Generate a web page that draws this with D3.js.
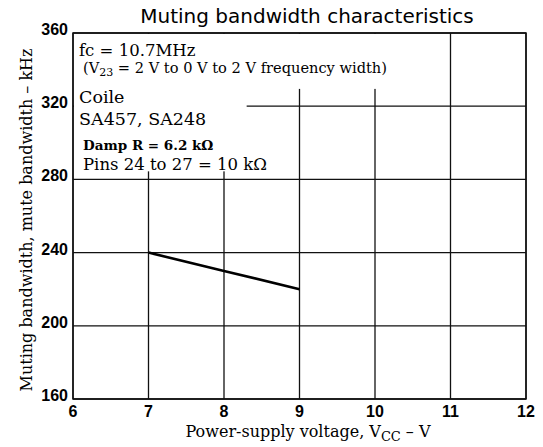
<!DOCTYPE html>
<html>
<head>
<meta charset="utf-8">
<script src="https://cdn.jsdelivr.net/npm/d3@7"></script>
<style>
  body { margin: 0; background: #fff; }
  svg { display: block; }
</style>
</head>
<body>
<div class="chart"></div>
<script>
// values
var voltage = [7, 8, 9];
var bandwidth = [240, 230, 220];
var xTicks = [6, 7, 8, 9, 10, 11, 12];
var yTicks = [160, 200, 240, 280, 320, 360];

var width = 543;
var height = 447;
var margin = {top: 33, right: 17, bottom: 48, left: 73};

var sans = 'Liberation Sans, Arial, sans-serif';
var serif = 'DejaVu Serif, serif';

var x = d3.scaleLinear().domain([6, 12]).range([margin.left, width - margin.right]);
var y = d3.scaleLinear().domain([160, 360]).range([height - margin.bottom, margin.top]);

var svg = d3.select('.chart')
  .append('svg')
  .attr('width', width)
  .attr('height', height);

// grid
svg.append('g')
  .selectAll('line')
  .data(xTicks)
  .enter()
  .append('line')
  .attr('x1', d => x(d)).attr('x2', d => x(d))
  .attr('y1', y(160)).attr('y2', y(360))
  .attr('stroke', '#111')
  .attr('stroke-width', 1.3);

svg.append('g')
  .selectAll('line')
  .data(yTicks)
  .enter()
  .append('line')
  .attr('x1', x(6)).attr('x2', x(12))
  .attr('y1', d => y(d)).attr('y2', d => y(d))
  .attr('stroke', '#111')
  .attr('stroke-width', 1.3);

// white box behind the notes hides part of the grid
svg.append('rect')
  .attr('x', x(6) + 1).attr('y', y(360) + 1)
  .attr('width', x(10.6) - x(6)).attr('height', y(330) - y(360))
  .attr('fill', '#fff');
svg.append('rect')
  .attr('x', x(6) + 1).attr('y', y(331))
  .attr('width', x(8.3) - x(6) - 1).attr('height', y(284.4) - y(331))
  .attr('fill', '#fff');

// frame
svg.append('rect')
  .attr('x', x(6)).attr('y', y(360))
  .attr('width', x(12) - x(6)).attr('height', y(160) - y(360))
  .attr('fill', 'none')
  .attr('stroke', '#111')
  .attr('stroke-width', 1.5);

// data line
var line = d3.line()
  .x((d, i) => x(voltage[i]))
  .y(d => y(d));

svg.append('path')
  .datum(bandwidth)
  .attr('d', line)
  .attr('fill', 'none')
  .attr('stroke', '#000')
  .attr('stroke-width', 2.6);

// tick labels
svg.append('g')
  .selectAll('text')
  .data(xTicks)
  .enter()
  .append('text')
  .text(d => d)
  .attr('x', d => x(d))
  .attr('y', y(160) + 18)
  .attr('text-anchor', 'middle')
  .attr('font-family', sans)
  .attr('font-size', '16px')
  .attr('font-weight', 'bold');

svg.append('g')
  .selectAll('text')
  .data(yTicks)
  .enter()
  .append('text')
  .text(d => d)
  .attr('x', x(6) - 5)
  .attr('y', d => y(d) + 2)
  .attr('text-anchor', 'end')
  .attr('font-family', sans)
  .attr('font-size', '16px')
  .attr('font-weight', 'bold');

// title
svg.append('text')
  .text('Muting bandwidth characteristics')
  .attr('x', 307)
  .attr('y', 23)
  .attr('text-anchor', 'middle')
  .attr('font-family', 'DejaVu Sans, sans-serif')
  .attr('font-size', '20px');

// axis titles
var xt = svg.append('text')
  .attr('x', 308)
  .attr('y', 437)
  .attr('text-anchor', 'middle')
  .attr('font-family', serif)
  .attr('font-size', '16px');
xt.append('tspan').text('Power-supply voltage, V');
xt.append('tspan').text('CC').attr('font-size', '13px').attr('dy', 4);
xt.append('tspan').text(' \u2013 V').attr('dy', -4);

svg.append('text')
  .text('Muting bandwidth, mute bandwidth \u2013 kHz')
  .attr('transform', 'translate(32,' + 220 + ') rotate(-90)')
  .attr('text-anchor', 'middle')
  .attr('font-family', serif)
  .attr('font-size', '16px');

// notes
svg.append('text').text('fc = 10.7MHz')
  .attr('x', 79).attr('y', 56)
  .attr('font-family', serif).attr('font-size', '16.5px');

var t2 = svg.append('text')
  .attr('x', 83).attr('y', 73)
  .attr('font-family', serif).attr('font-size', '14.6px');
t2.append('tspan').text('(V');
t2.append('tspan').text('23').attr('font-size', '11px').attr('dy', 3);
t2.append('tspan').text(' = 2 V to 0 V to 2 V frequency width)').attr('dy', -3);

svg.append('text').text('Coile')
  .attr('x', 79).attr('y', 103)
  .attr('font-family', serif).attr('font-size', '17.5px');
svg.append('text').text('SA457, SA248')
  .attr('x', 79).attr('y', 125)
  .attr('font-family', serif).attr('font-size', '17.5px');
svg.append('text').text('Damp R = 6.2 k\u03a9')
  .attr('x', 83).attr('y', 150)
  .attr('font-family', serif).attr('font-size', '13.5px').attr('font-weight', 'bold');
svg.append('text').text('Pins 24 to 27 = 10 k\u03a9')
  .attr('x', 83).attr('y', 170)
  .attr('font-family', serif).attr('font-size', '16.5px');
</script>
</body>
</html>
